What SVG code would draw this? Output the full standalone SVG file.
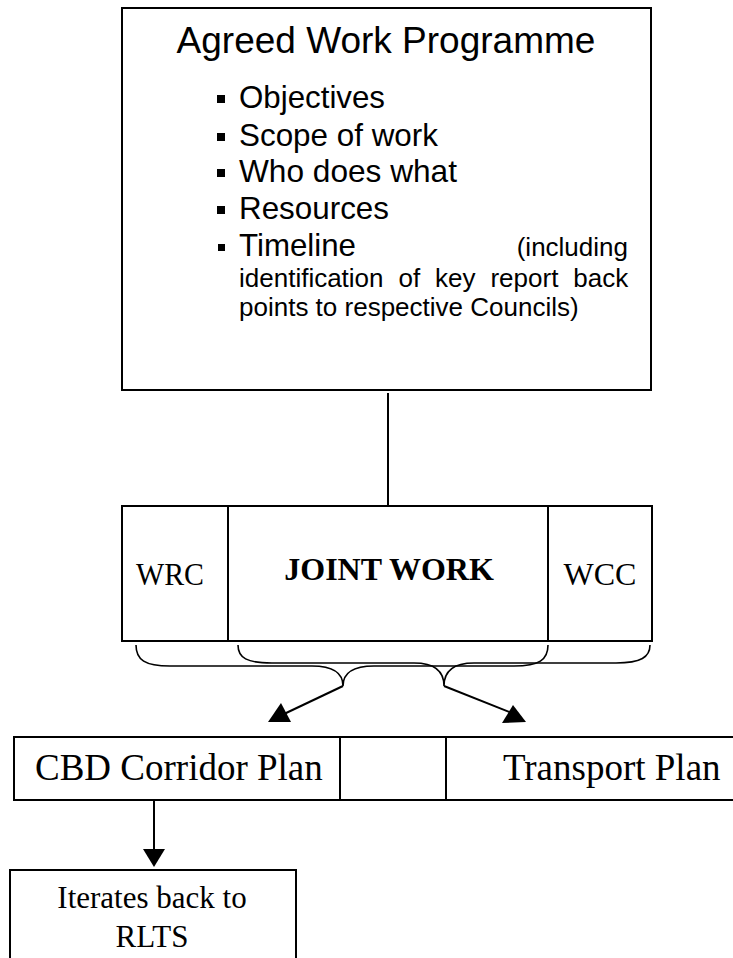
<svg xmlns="http://www.w3.org/2000/svg" width="733" height="958" viewBox="0 0 733 958">
<style>
.box{fill:#fff;stroke:#000;stroke-width:2}
.ln{fill:none;stroke:#000;stroke-width:2}
.br{fill:none;stroke:#000;stroke-width:1.6}
.ah{fill:#000;stroke:none}
.sans{font-family:"Liberation Sans",Arial,sans-serif;fill:#000}
.serif{font-family:"Liberation Serif","Times New Roman",serif;fill:#000}
.bl{font-size:32px}
</style>
<rect width="733" height="958" fill="#fff"/>
<g id="agreed-work-programme">
<rect class="box" x="122" y="8" width="529" height="382"/>
<text class="sans" x="386" y="53" font-size="37" text-anchor="middle">Agreed Work Programme</text>
<rect x="217" y="95" width="8" height="8"/>
<text class="sans bl" x="239" y="108" textLength="146" lengthAdjust="spacingAndGlyphs">Objectives</text>
<rect x="217" y="133" width="8" height="8"/>
<text class="sans bl" x="239" y="146" textLength="199" lengthAdjust="spacingAndGlyphs">Scope of work</text>
<rect x="217" y="169" width="8" height="8"/>
<text class="sans bl" x="239" y="182" textLength="218" lengthAdjust="spacingAndGlyphs">Who does what</text>
<rect x="217" y="206" width="8" height="8"/>
<text class="sans bl" x="239" y="219" textLength="150" lengthAdjust="spacingAndGlyphs">Resources</text>
<rect x="218" y="244" width="7" height="7"/>
<text class="sans bl" x="239" y="256" textLength="117" lengthAdjust="spacingAndGlyphs">Timeline</text>
<text class="sans" x="628" y="256" font-size="26" text-anchor="end">(including</text>
<text class="sans" x="239" y="287" font-size="26" word-spacing="7.7">identification of key report back</text>
<text class="sans" x="239" y="316" font-size="26">points to respective Councils)</text>
</g>
<g id="joint-work">
<rect class="box" x="122" y="506" width="530" height="135"/>
<line class="ln" x1="228" y1="506" x2="228" y2="641"/>
<line class="ln" x1="548" y1="506" x2="548" y2="641"/>
<text class="serif" x="136" y="585" font-size="32" textLength="68" lengthAdjust="spacingAndGlyphs">WRC</text>
<text class="serif" x="389" y="580" font-size="32" font-weight="bold" text-anchor="middle">JOINT WORK</text>
<text class="serif" x="600" y="585" font-size="32" text-anchor="middle">WCC</text>
</g>
<g id="plans">
<rect class="box" x="14" y="737" width="760" height="63"/>
<line class="ln" x1="340" y1="737" x2="340" y2="800"/>
<line class="ln" x1="446" y1="737" x2="446" y2="800"/>
<text class="serif" x="35" y="780" font-size="37">CBD Corridor Plan</text>
<text class="serif" x="503" y="780" font-size="37">Transport Plan</text>
</g>
<g id="iterates">
<rect class="box" x="10" y="870" width="286" height="120"/>
<text class="serif" x="152" y="908" font-size="31" text-anchor="middle">Iterates back to</text>
<text class="serif" x="152" y="947" font-size="31" text-anchor="middle">RLTS</text>
</g>
<g id="connectors">
<line class="ln" x1="388" y1="393" x2="388" y2="506"/>
<path class="br" d="M136,645 C136,660 145,666 170,666 L312,666 C332,666 343,672 343,686 C343,672 354,666 374,666 L514,666 C539,666 548,660 548,645"/>
<path class="br" d="M238,645 C238,658 247,663 272,663 L414,663 C434,663 444,670 444,686 C444,670 454,663 474,663 L616,663 C641,663 650,657 650,645"/>
<line class="ln" x1="343" y1="686" x2="284" y2="714"/>
<polygon class="ah" points="281,703 268,722 291,722"/>
<line class="ln" x1="444" y1="686" x2="512" y2="713"/>
<polygon class="ah" points="513,705 502,723 526,722"/>
<line class="ln" x1="154" y1="800" x2="154" y2="852"/>
<polygon class="ah" points="143,849 165,849 154,867"/>
</g>
</svg>
